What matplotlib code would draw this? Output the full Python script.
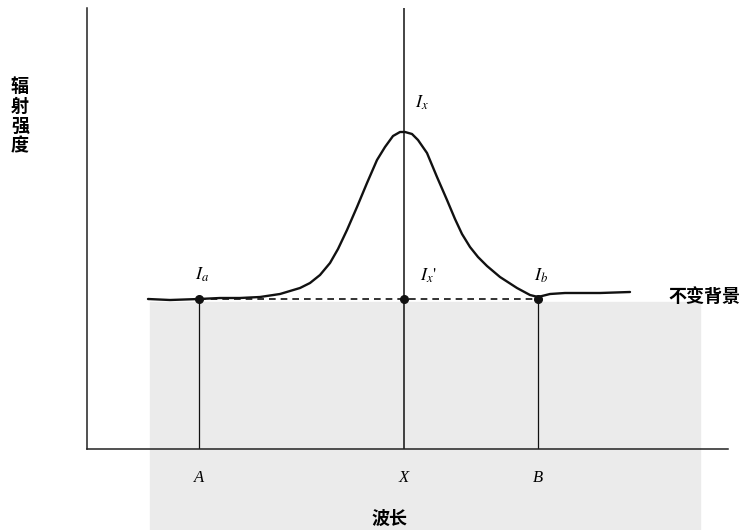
import matplotlib
matplotlib.use('Agg')
import matplotlib.pyplot as plt
from matplotlib.patches import Rectangle

plt.rcParams['font.family'] = ['Noto Sans CJK SC', 'DejaVu Sans']
plt.rcParams['mathtext.fontset'] = 'stix'

# Curve (wavelength, intensity), arbitrary units
wave = [61, 83, 112, 133, 153, 173, 193, 213, 223, 233, 243, 251, 260, 270,
        280, 290, 298, 306, 313, 318, 325, 331, 340, 350, 360, 368, 375, 383,
        391, 400, 413, 430, 443, 451, 463, 478, 513, 543]
intensity = [150, 149, 150, 151, 151, 152, 155, 161, 166, 174, 186, 200, 219,
             242, 266, 289, 302, 313, 317, 317, 315, 309, 296, 272, 249, 230,
             215, 202, 192, 183, 172, 161, 154, 152, 155, 156, 156, 157]

# Marked positions
pos_names = ['A', 'X', 'B']
pos_wave = [112, 317, 451]
background = 150
x_max = 641
y_max = 441

fig = plt.figure(figsize=(7.45, 5.30), dpi=100)
ax = fig.add_axes([87 / 745, 81 / 530, 641 / 745, 441 / 530])
ax.set_xlim(0, x_max)
ax.set_ylim(0, y_max)
# faint grey from the scanned page
ax.add_patch(Rectangle((150 / 745, 0), 550 / 745, 228 / 530,
                       transform=fig.transFigure, color='#ebebeb',
                       zorder=0, clip_on=False))
for side in ['top', 'right']:
    ax.spines[side].set_visible(False)
for side in ['left', 'bottom']:
    ax.spines[side].set_linewidth(1.1)
    ax.spines[side].set_color('#222222')
ax.set_xticks([])
ax.set_yticks([])

# peak on constant background
ax.plot(wave, intensity, color='#111111', lw=1.7, solid_joinstyle='round',
        solid_capstyle='round')
# dashed background under the peak
ax.plot([pos_wave[0], pos_wave[2]], [background, background], color='#111111',
        lw=1.2, ls=(0, (4, 3)))
# vertical markers
ax.plot([pos_wave[0], pos_wave[0]], [0, background], color='#111111', lw=0.9)
ax.plot([pos_wave[2], pos_wave[2]], [0, background], color='#111111', lw=0.9)
ax.plot([pos_wave[1], pos_wave[1]], [0, y_max], color='#111111', lw=1.1)
ax.plot(pos_wave, [background] * 3, 'o', color='#111111', ms=5.5, zorder=5)

# point labels
ax.text(pos_wave[0] + 3, 165, r'$I_a$', fontsize=13, ha='center', va='bottom')
ax.text(pos_wave[1] + 18, 337, r'$I_x$', fontsize=13, ha='center', va='bottom')
ax.text(pos_wave[1] + 24, 164, r"$I_x$'", fontsize=13, family='STIXGeneral',
        ha='center', va='bottom')
ax.text(pos_wave[2] + 3, 164, r'$I_b$', fontsize=13, ha='center', va='bottom')

for name, w in zip(pos_names, pos_wave):
    ax.text(w, -29, name, fontsize=12, style='italic', family='Liberation Serif',
            ha='center', va='center', clip_on=False)

ax.text(303, -69, '波长', fontsize=13, fontweight='bold', ha='center',
        va='center', clip_on=False)
ax.text(581, 152, '不变背景', fontsize=13, fontweight='bold', ha='left',
        va='center', clip_on=False)
ax.text(-67, 333, '\n'.join('辐射强度'), fontsize=13, fontweight='bold',
        ha='center', va='center', linespacing=1.05, clip_on=False)

plt.savefig('out.png', dpi=100)
